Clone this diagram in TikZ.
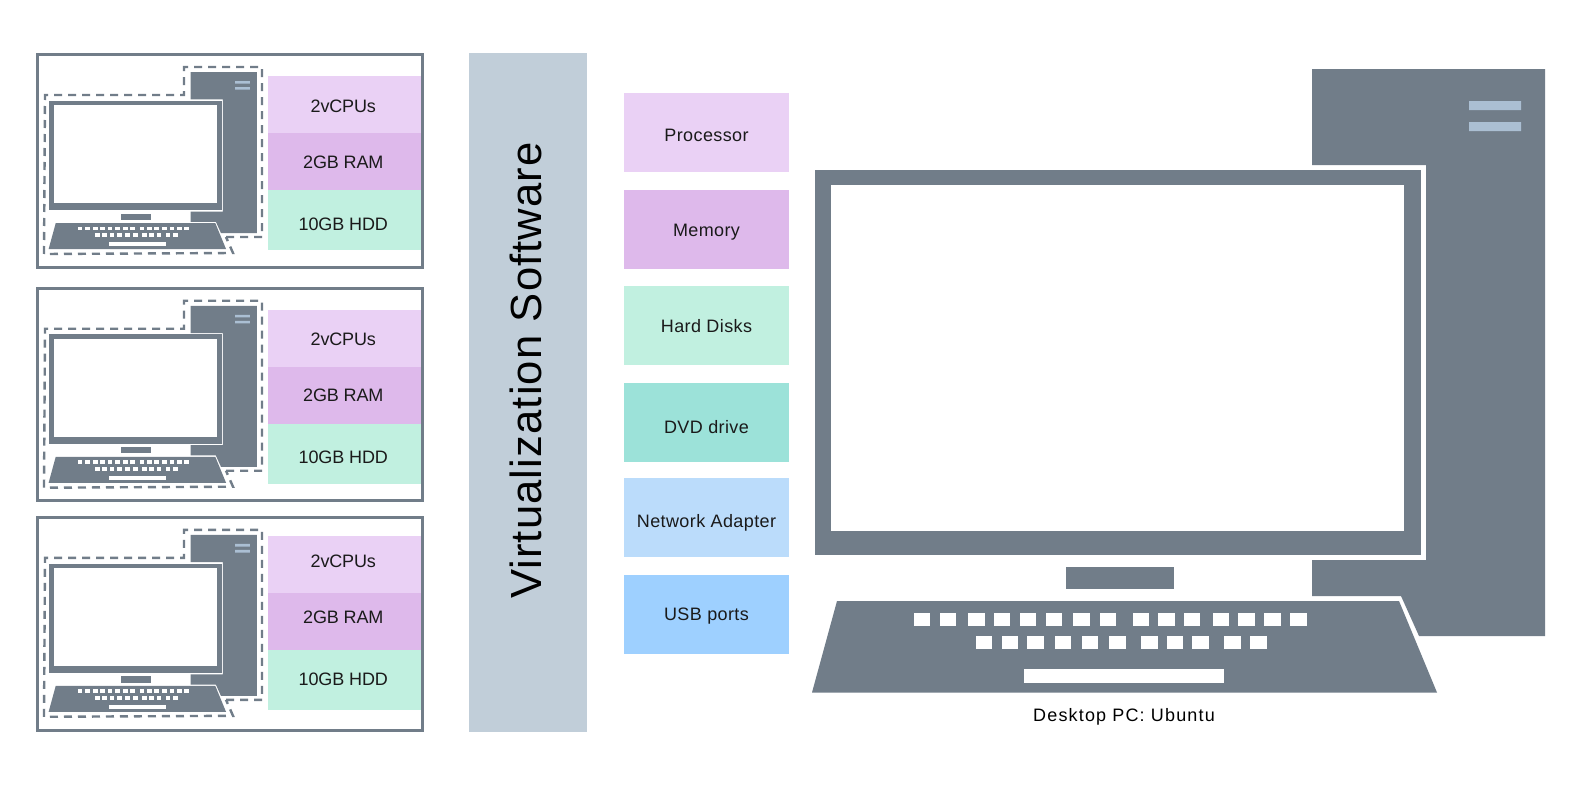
\documentclass[tikz,border=0pt]{standalone}
\usepackage{fontspec}
\setmainfont{Liberation Sans}
\usepackage{tikz}
\definecolor{Slate}{HTML}{717D89}
\definecolor{PaleSlate}{HTML}{C1CED9}
\definecolor{LedBlue}{HTML}{ABBFD3}
\definecolor{PaleLilac}{HTML}{EAD1F5}
\definecolor{Lilac}{HTML}{DEB9EB}
\definecolor{PaleMint}{HTML}{C1F0E0}
\definecolor{Teal}{HTML}{9CE2D9}
\definecolor{PaleBlue}{HTML}{BBDCFB}
\definecolor{SkyBlue}{HTML}{9ED0FF}
\definecolor{Ink}{HTML}{1A1A1A}
\newcommand{\desktoppc}{%
  \fill[Slate] (1312,69)--(1545,69)--(1545,636)--(1419,636)--(1401,596)--(1312,596)
    --(1312,560)--(1426,560)--(1426,165)--(1312,165)--cycle;
  \fill[LedBlue] (1469,101) rectangle (1521,110) (1469,122) rectangle (1521,131);
  \fill[Slate] (815,170) rectangle (1421,555);
  \fill[white] (831,185) rectangle (1404,531);
  \fill[Slate] (1066,567) rectangle (1174,589);
  \fill[Slate] (837,601)--(1399,601)--(1437,692.5)--(812,692.5)--cycle;
  \foreach \x in {913.9,939.6,968.2,993.9,1019.6,1045.8,1073.4,1099.6,1132.5,1158.2,1183.9,1212.5,1238.2,1264.4,1290.1}
    {\fill[white] (\x,613) rectangle ++(16.5,13);}
  \foreach \x in {975.5,1001.6,1027.3,1054.5,1081.6,1109.3,1141.3,1166.9,1192.1,1224.1,1250.3}
    {\fill[white] (\x,636) rectangle ++(16.5,13);}
  \fill[white] (1024,669) rectangle (1224,683);
}
\begin{document}
\begin{tikzpicture}[x=1pt,y=-1pt,
  vmframe/.style={draw=Slate,line width=3pt,fill=white,inner sep=0pt,minimum width=385pt,minimum height=212.5pt},
  vmbox/.style={inner sep=0pt,minimum width=153pt},
  resbox/.style={inner sep=0pt,minimum width=165pt,minimum height=79pt},
  txt/.style={anchor=base,inner sep=0pt,text=Ink,font=\fontsize{18}{20}\selectfont\addfontfeatures{LetterSpace=-.8}},
  restxt/.style={txt,font=\fontsize{18}{20}\selectfont\addfontfeatures{LetterSpace=2.2}}]
  \useasboundingbox (0,0) rectangle (1580,811);
  \fill[white] (0,0) rectangle (1580,811);
  \foreach \k/\df/\db/\dt in {1/0/0/0,2/233.7/234/233,3/462.8/460/455} {
    \node[vmframe] (vm\k) at ({230},{161+\df}) {};
    \foreach \r/\yc/\hh/\base/\col/\lab in {cpu/104.5/57/112.2/PaleLilac/2vCPUs,ram/161.5/57/168.8/Lilac/2GB RAM,hdd/220/60/230.5/PaleMint/10GB HDD} {
      \node[vmbox,fill=\col,minimum height=\hh pt] (\r\k) at ({344.5},{\yc+\db}) {};
      \node[txt] (\r text\k) at ({343.3},{\base+\dt}) {\lab};
    }
    \begin{scope}[shift={(-182,{52.5+\df})},scale=.284]
      \desktoppc
    \end{scope}
    \draw[Slate,line width=2.4pt,dash pattern=on 8pt off 6pt] (226,{237+\df})--(262,{237+\df})--(262,{67+\df})
      --(184,{67+\df})--(184,{95+\df})--(45,{95+\df})--(44,{254+\df})--(233,{253+\df})--cycle;
  }
  \node[fill=PaleSlate,inner sep=0pt,minimum width=118pt,minimum height=679pt] (virt) at (528,392.5) {};
  \node[anchor=base,rotate=90,inner sep=0pt,text=black,font=\fontsize{43.6}{46}\selectfont\addfontfeatures{LetterSpace=2.6}] (virttext) at (541,370.5)
    {Virtualization Software};
  \foreach \r/\yc/\base/\col/\lab in {proc/132.5/141/PaleLilac/Processor,mem/229.5/236/Lilac/Memory,disk/325.5/332.3/PaleMint/Hard Disks,dvd/422.5/433.3/Teal/DVD drive,net/517.5/527.3/PaleBlue/Network Adapter,usb/614.5/620/SkyBlue/USB ports} {
    \node[resbox,fill=\col] (\r) at (706.5,\yc) {};
    \node[restxt] (\r text) at (706.5,\base) {\lab};
  }
  \desktoppc
  \node[txt,text=black,font=\fontsize{18}{20}\selectfont\addfontfeatures{LetterSpace=6.5}] (pctext) at (1124,721.7) {Desktop PC: Ubuntu};
\end{tikzpicture}
\end{document}
